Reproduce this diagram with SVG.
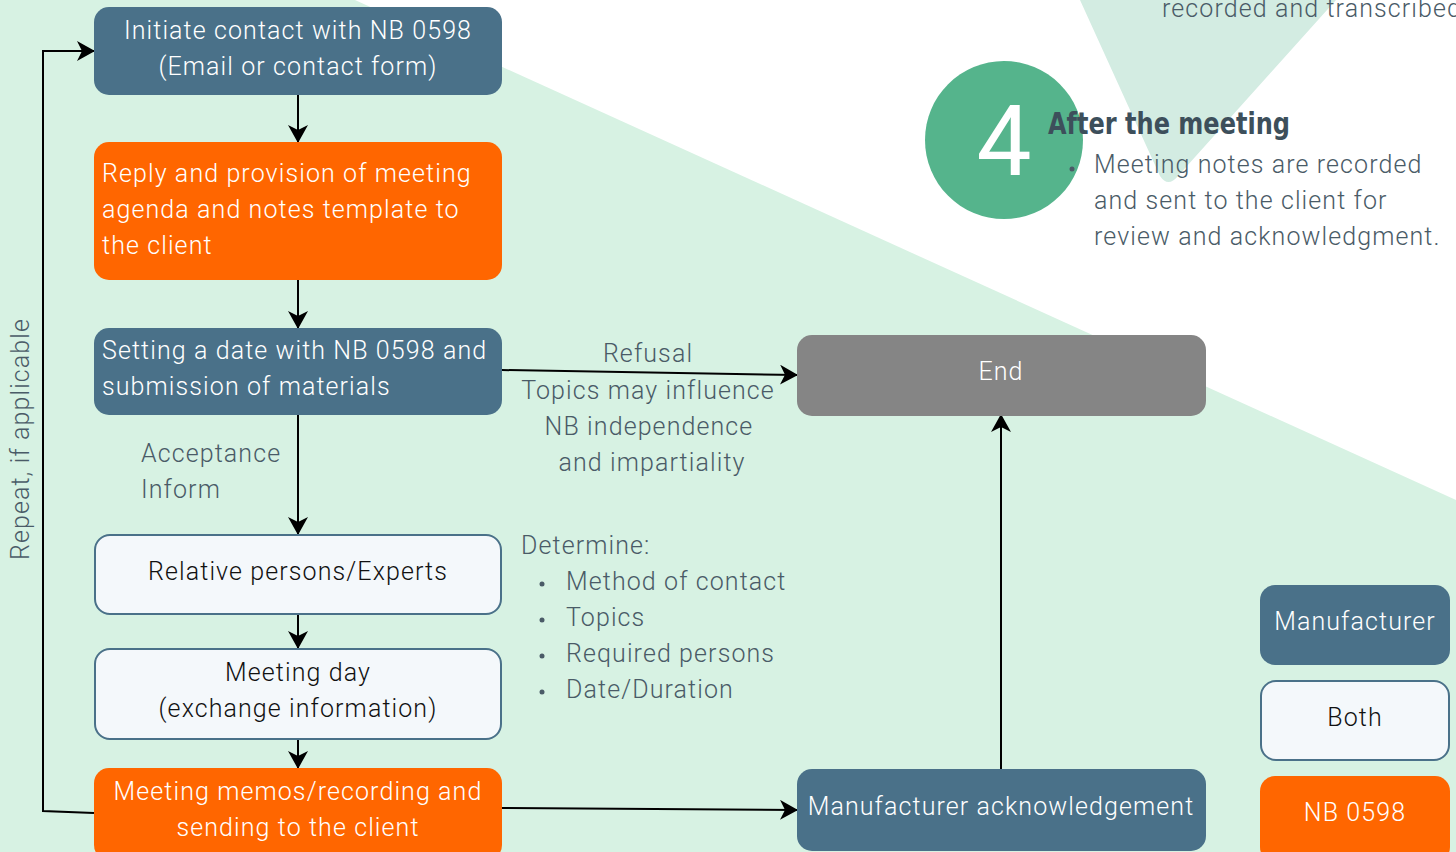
<svg xmlns="http://www.w3.org/2000/svg" width="1456" height="852" viewBox="0 0 1456 852">
<defs>
<marker id="arr" viewBox="0 0 18 20" refX="17" refY="10" markerWidth="18" markerHeight="20" markerUnits="userSpaceOnUse" orient="auto">
<path d="M0,0 L18,10 L0,20 L5,10 Z" fill="#000"/>
</marker>
</defs>
<style>
text{font-family:Roboto,"Liberation Sans",Arial,sans-serif;font-weight:300;font-size:25px;letter-spacing:1.1px}
.w{fill:#ffffff}
.d{fill:#111111}
.g{fill:#4a5b67}
.c{text-anchor:middle}
.blue{fill:#4a7189}
.orange{fill:#ff6600}
.both{fill:#f4f8fb;stroke:#4a7189;stroke-width:2}
.grey{fill:#858585}
.ln{fill:none;stroke:#000;stroke-width:2}
</style>
<rect x="0" y="0" width="1456" height="852" fill="#ffffff"/>
<polygon points="0,0 355,0 1456,500 1456,852 0,852" fill="#d7f2e3"/>
<path d="M1080,0 L1336,0 L1178,176 Q1168,188 1160,176 Z" fill="#d3ece2"/>
<text x="1162" y="17" class="g">recorded and transcribed</text>
<g id="step4">
<circle cx="1004" cy="140" r="79" fill="#55b48c"/>
<text x="1004" y="175" class="w c" style="font-size:98px;font-weight:400;letter-spacing:0">4</text>
<text x="1048" y="134" style="font-family:'DejaVu Sans Condensed','Liberation Sans Narrow',sans-serif;font-weight:700;font-size:31px;fill:#3d4f5b;letter-spacing:0" textLength="242" lengthAdjust="spacingAndGlyphs">After the meeting</text>
<circle cx="1072" cy="169" r="2.5" fill="#4a5b67"/>
<text x="1094" y="173" class="g">Meeting notes are recorded</text>
<text x="1094" y="209" class="g">and sent to the client for</text>
<text x="1094" y="245" class="g">review and acknowledgment.</text>
</g>
<g id="connectors">
<line x1="298" y1="95" x2="298" y2="142" class="ln" marker-end="url(#arr)"/>
<line x1="298" y1="280" x2="298" y2="328" class="ln" marker-end="url(#arr)"/>
<line x1="298" y1="415" x2="298" y2="534" class="ln" marker-end="url(#arr)"/>
<line x1="298" y1="614" x2="298" y2="648" class="ln" marker-end="url(#arr)"/>
<line x1="298" y1="739" x2="298" y2="768" class="ln" marker-end="url(#arr)"/>
<line x1="502" y1="370" x2="797" y2="375" class="ln" marker-end="url(#arr)"/>
<line x1="502" y1="808" x2="797" y2="810" class="ln" marker-end="url(#arr)"/>
<line x1="1001" y1="769" x2="1001" y2="415" class="ln" marker-end="url(#arr)"/>
<polyline points="94,813 43,811 43,51 94,51" class="ln" marker-end="url(#arr)"/>
<text x="648" y="362" class="g c">Refusal</text>
<text x="648" y="399" class="g c">Topics may influence</text>
<text x="649" y="435" class="g c">NB independence</text>
<text x="652" y="471" class="g c">and impartiality</text>
<text x="141" y="462" class="g">Acceptance</text>
<text x="141" y="498" class="g">Inform</text>
<text transform="translate(29,439) rotate(-90)" class="g c">Repeat, if applicable</text>
</g>
<g id="determine">
<text x="521" y="554" class="g">Determine:</text>
<circle cx="542" cy="584" r="2.5" fill="#4a5b67"/>
<circle cx="542" cy="620" r="2.5" fill="#4a5b67"/>
<circle cx="542" cy="656" r="2.5" fill="#4a5b67"/>
<circle cx="542" cy="692" r="2.5" fill="#4a5b67"/>
<text x="566" y="590" class="g">Method of contact</text>
<text x="566" y="626" class="g">Topics</text>
<text x="566" y="662" class="g">Required persons</text>
<text x="566" y="698" class="g">Date/Duration</text>
</g>
<g id="initiate">
<rect x="94" y="7" width="408" height="88" rx="15" class="blue"/>
<text x="298" y="39" class="w c">Initiate contact with NB 0598</text>
<text x="298" y="75" class="w c">(Email or contact form)</text>
</g>
<g id="reply">
<rect x="94" y="142" width="408" height="138" rx="15" class="orange"/>
<text x="102" y="182" class="w">Reply and provision of meeting</text>
<text x="102" y="218" class="w">agenda and notes template to</text>
<text x="102" y="254" class="w">the client</text>
</g>
<g id="setting">
<rect x="94" y="328" width="408" height="87" rx="15" class="blue"/>
<text x="102" y="359" class="w">Setting a date with NB 0598 and</text>
<text x="102" y="395" class="w">submission of materials</text>
</g>
<g id="relative">
<rect x="95" y="535" width="406" height="79" rx="15" class="both"/>
<text x="298" y="580" class="d c">Relative persons/Experts</text>
</g>
<g id="meetingday">
<rect x="95" y="649" width="406" height="90" rx="15" class="both"/>
<text x="298" y="681" class="d c">Meeting day</text>
<text x="298" y="717" class="d c">(exchange information)</text>
</g>
<g id="memos">
<rect x="94" y="768" width="408" height="92" rx="15" class="orange"/>
<text x="298" y="800" class="w c">Meeting memos/recording and</text>
<text x="298" y="836" class="w c">sending to the client</text>
</g>
<g id="end">
<rect x="797" y="335" width="409" height="81" rx="15" class="grey"/>
<text x="1001" y="380" class="w c">End</text>
</g>
<g id="ack">
<rect x="797" y="769" width="409" height="82" rx="15" class="blue"/>
<text x="1001" y="815" class="w c">Manufacturer acknowledgement</text>
</g>
<g id="legend-manufacturer">
<rect x="1260" y="585" width="190" height="80" rx="15" class="blue"/>
<text x="1355" y="630" class="w c">Manufacturer</text>
</g>
<g id="legend-both">
<rect x="1261" y="681" width="188" height="79" rx="15" class="both"/>
<text x="1355" y="726" class="d c">Both</text>
</g>
<g id="legend-nb">
<rect x="1260" y="776" width="190" height="86" rx="15" class="orange"/>
<text x="1355" y="821" class="w c">NB 0598</text>
</g>
</svg>
